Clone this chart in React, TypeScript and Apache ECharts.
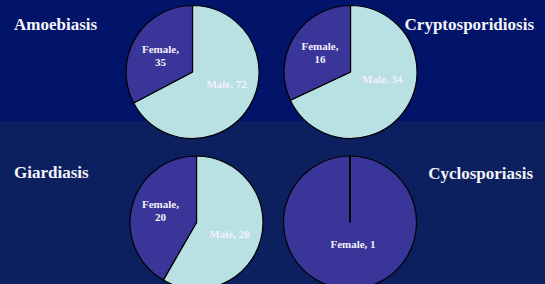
import React, { useEffect, useRef } from "react";
import * as echarts from "echarts";

const diseases = ["Amoebiasis", "Cryptosporidiosis", "Giardiasis", "Cyclosporiasis"];
const sexes = ["Male", "Female"];
const maleCounts = [72, 34, 28, 0];
const femaleCounts = [35, 16, 20, 1];

const RADIUS = 66.5;
const centers: [number, number][] = [
  [192.5, 72],
  [350.5, 72],
  [196.5, 222.5],
  [350, 222.5],
];
const titlePos = [
  { left: 14, top: 16 },
  { right: 11, top: 16 },
  { left: 14, top: 164 },
  { right: 12, top: 165 },
];
// label offsets [male, female] per pie
const labelOffsets: [number, number][][] = [
  [[3, -7], [-1, 2]],
  [[1, -12], [0, 0]],
  [[-2, 2], [-1, -3]],
  [[0, 0], [3, -15]],
];

export default function App() {
  const ref = useRef<HTMLDivElement>(null);
  useEffect(() => {
    if (!ref.current) return;
    const chart = echarts.init(ref.current, null, { renderer: "svg" });
    const font = "'Liberation Serif', 'Times New Roman', serif";
    const series = diseases.map((d, i) => ({
      type: "pie",
      name: d,
      center: centers[i],
      radius: RADIUS,
      startAngle: 90,
      clockwise: true,
      avoidLabelOverlap: false,
      labelLine: { show: false },
      itemStyle: { borderColor: "#000", borderWidth: 1.2 },
      label: {
        show: true,
        position: "inside",
        color: "#f2f2fa",
        fontFamily: font,
        fontWeight: "bold",
        fontSize: 11,
        lineHeight: 13,
        formatter: (p: any) => {
          if (p.value === 0) return "";
          if (p.name === "Female" && i < 3) return `${p.name},\n${p.value}`;
          return `${p.name}, ${p.value}`;
        },
      },
      emphasis: { disabled: true },
      data: [
        {
          name: sexes[0],
          value: maleCounts[i],
          itemStyle: { color: "#b9e0e3" },
          label: { offset: labelOffsets[i][0] },
        },
        {
          name: sexes[1],
          value: femaleCounts[i],
          itemStyle: { color: "#3a3598" },
          label: { offset: labelOffsets[i][1] },
        },
      ],
    }));
    const zeroLines = diseases
      .map((d, i) => ({ i, zero: maleCounts[i] === 0 || femaleCounts[i] === 0 }))
      .filter((o) => o.zero)
      .map((o) => ({
        type: "line",
        silent: true,
        z: 10,
        shape: {
          x1: centers[o.i][0],
          y1: centers[o.i][1],
          x2: centers[o.i][0],
          y2: centers[o.i][1] - RADIUS,
        },
        style: { stroke: "#000", lineWidth: 2 },
      }));
    chart.setOption({
      animation: false,
      backgroundColor: "#0c1f5e",
      graphic: [
        {
          type: "rect",
          z: -10,
          silent: true,
          shape: { x: 0, y: 0, width: 545, height: 121 },
          style: { fill: "#02146a" },
        },
        ...zeroLines,
      ],
      title: diseases.map((d, i) => ({
        text: d,
        ...titlePos[i],
        padding: 0,
        textStyle: {
          color: "#f4f4fa",
          fontFamily: font,
          fontWeight: "bold",
          fontSize: 17,
        },
      })),
      series,
    });
    return () => chart.dispose();
  }, []);
  return <div ref={ref} style={{ width: 545, height: 284, position: "absolute", left: 0, top: 0 }} />;
}
